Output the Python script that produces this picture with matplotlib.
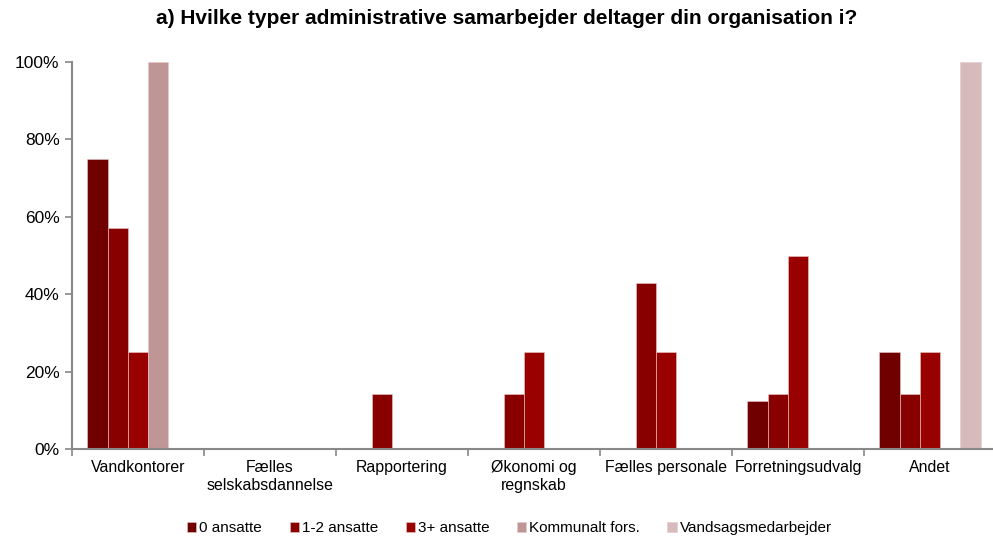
import numpy as np
import matplotlib
matplotlib.use('Agg')
import matplotlib.pyplot as plt
from matplotlib.ticker import FuncFormatter

plt.rcParams['font.family'] = ['Liberation Sans', 'DejaVu Sans']

categories = ['Vandkontorer', 'Fælles\nselskabsdannelse', 'Rapportering',
              'Økonomi og\nregnskab', 'Fælles personale', 'Forretningsudvalg', 'Andet']
series_names = ['0 ansatte', '1-2 ansatte', '3+ ansatte', 'Kommunalt fors.', 'Vandsagsmedarbejder']
ansatte_0 = [75, 0, 0, 0, 0, 12.5, 25]
ansatte_12 = [57.1, 0, 14.3, 14.3, 42.9, 14.3, 14.3]
ansatte_3 = [25, 0, 0, 25, 25, 50, 25]
kommunalt = [100, 0, 0, 0, 0, 0, 0]
vandsags = [0, 0, 0, 0, 0, 0, 100]
colors = ['#700000', '#880000', '#990000', '#C09595', '#D5BBBB']

series = [ansatte_0, ansatte_12, ansatte_3, kommunalt, vandsags]

fig = plt.figure(figsize=(9.93, 5.43), dpi=100)
ax = fig.add_axes([72 / 993, 94 / 543, 924 / 993, 387 / 543])

x = np.arange(len(categories))
w = 0.154
for i, (vals, name, c) in enumerate(zip(series, series_names, colors)):
    ax.bar(x + (i - 2) * w, vals, width=w, color=c, label=name,
           edgecolor='#E8C8C8', linewidth=0.4)

ax.set_xlim(-0.5, len(categories) - 0.5)
ax.set_ylim(0, 100)
ax.set_yticks(np.arange(0, 101, 20))
ax.yaxis.set_major_formatter(FuncFormatter(lambda v, p: f'{int(v)}%'))
ax.set_xticks(x)
ax.set_xticklabels(categories, fontsize=11.4)
ax.set_xticks(np.arange(-0.5, len(categories)), minor=True)
ax.tick_params(axis='x', which='major', length=0, pad=8)
ax.tick_params(axis='x', which='minor', length=5, color='#888888', width=1.2)
ax.tick_params(axis='y', length=5, color='#888888', width=1.2, labelsize=12.5, pad=4)
for s in ['top', 'right']:
    ax.spines[s].set_visible(False)
for s in ['left', 'bottom']:
    ax.spines[s].set_color('#888888')
    ax.spines[s].set_linewidth(1.5)

fig.text(507 / 993, 1 - 18 / 543, 'a) Hvilke typer administrative samarbejder deltager din organisation i?',
         ha='center', va='center', fontsize=15, fontweight='bold')

fig.legend(loc='center', bbox_to_anchor=(0.513, 0.027), ncol=5, frameon=False,
           fontsize=11, handlelength=0.6, handleheight=0.6, handletextpad=0.2,
           columnspacing=1.8)

fig.savefig('out.png', dpi=100)
